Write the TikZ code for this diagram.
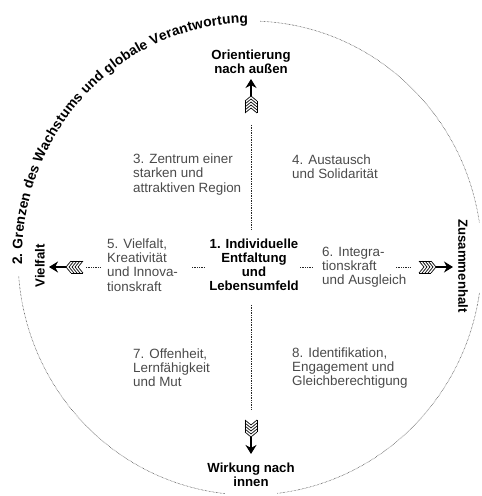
\documentclass[tikz,border=0pt]{standalone}
\usepackage{fontspec}
\setmainfont{Liberation Sans}
\usetikzlibrary{arrows.meta,decorations.text}
\definecolor{bodygray}{HTML}{4A4A4A}
\newcommand{\arclabelfont}{\bfseries\fontsize{13.8}{13.8}\selectfont}
\begin{document}
\begin{tikzpicture}[x=1pt,y=1pt,
  body/.style={inner sep=0pt, align=left, anchor=west, text=bodygray, font=\fontsize{13.4}{14.2}\selectfont},
  head/.style={inner sep=0pt, align=center, font=\bfseries\fontsize{13.2}{14}\selectfont},
  dotline/.style={line width=0.7pt, dash pattern=on 0.7pt off 1pt, black!85},
  rim/.style={line width=0.6pt, dash pattern=on 0.5pt off 0.9pt, black!75},
  fletch/.pic={
    \foreach \i in {0,3,6,9,12}
      \draw[line width=0.7pt] (\i,6) -- (\i+5,0) -- (\i,-6);
    \draw[line width=0.7pt] (0,6) -- (12,6) (0,-6) -- (12,-6);
    \draw[line width=1.3pt,-{Stealth[length=9pt,width=11pt]}] (17,0) -- (34,0);
  }
]
\useasboundingbox (0,0) rectangle (482,496);
\coordinate (C) at (250,238);

% outer dotted ellipse
\draw[rim] (C) ++(87.5:232 and 237) arc[start angle=87.5, end angle=8.5, x radius=232, y radius=237];
\draw[rim] (C) ++(-8.5:232 and 237) arc[start angle=-8.5, end angle=-83.3, x radius=232, y radius=237];
\draw[rim] (C) ++(-96.2:232 and 237) arc[start angle=-96.2, end angle=-175.6, x radius=232, y radius=237];

% text along the arc
\path[decorate, decoration={text along path,
   text format delimiters={|}{|},
   text={|\arclabelfont|2. Grenzen des Wachstums und globale Verantwortung},
   text align=fit to path}]
  (C) ++(181.7:228 and 235) arc[start angle=181.7, end angle=90.5, x radius=228, y radius=235];

% labels
\node[head] (north) at (251,434) {Orientierung\\nach außen};
\node[head] (south) at (251,21) {Wirkung nach\\innen};
\node[head] (center) at (254,231.5) {1. Individuelle\\Entfaltung\\und\\Lebensumfeld};
\node[head, rotate=90] (west) at (40,230) {Vielfalt};
\node[head, rotate=-90] (east) at (463,230) {Zusammenhalt};

\node[body] (t3) at (133,321.5) {3. Zentrum einer\\starken und\\attraktiven Region};
\node[body] (t4) at (292,329) {4. Austausch\\und Solidarität};
\node[body] (t5) at (107,231) {5. Vielfalt,\\Kreativität\\und Innova-\\tionskraft};
\node[body] (t6) at (322,229) {6. Integra-\\tionskraft\\und Ausgleich};
\node[body] (t7) at (133,128) {7. Offenheit,\\Lernfähigkeit\\und Mut};
\node[body] (t8) at (292,128) {8. Identifikation,\\Engagement und\\Gleichberechtigung};

% dotted connectors
\coordinate (u1) at (251,371); \coordinate (u2) at (251,266);
\coordinate (d1) at (251,191); \coordinate (d2) at (251,86);
\coordinate (l1) at (86,229);  \coordinate (l2) at (100,229);
\coordinate (l3) at (192,229); \coordinate (l4) at (205,229);
\coordinate (r1) at (300,229); \coordinate (r2) at (313,229);
\coordinate (r3) at (396,229); \coordinate (r4) at (410,229);
\draw[dotline] (u1) -- (u2);
\draw[dotline] (d1) -- (d2);
\draw[dotline] (l1) -- (l2);
\draw[dotline] (l3) -- (l4);
\draw[dotline] (r1) -- (r2);
\draw[dotline] (r3) -- (r4);

% feathered arrows
\coordinate (tailN) at (251,383);
\coordinate (tailS) at (251,76);
\coordinate (tailW) at (83,229);
\coordinate (tailE) at (419,229);
\pic[rotate=90] at (tailN) {fletch};
\pic[rotate=-90] at (tailS) {fletch};
\pic[rotate=180] at (tailW) {fletch};
\pic at (tailE) {fletch};
\end{tikzpicture}
\end{document}
